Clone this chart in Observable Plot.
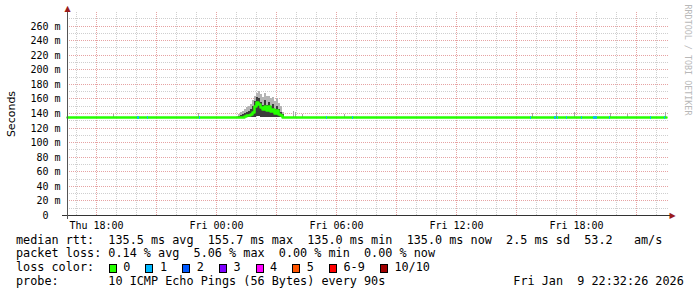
<!DOCTYPE html>
<html><head><meta charset="utf-8">
<script src="https://cdn.jsdelivr.net/npm/d3@7"></script>
<script src="https://cdn.jsdelivr.net/npm/@observablehq/plot@0.6"></script>
<style>
body{margin:0;background:#fff}
#wrap{position:relative;width:697px;height:297px;overflow:hidden;background:#fff}
#wrap svg{position:absolute;left:0;top:0}
.row{position:absolute;font-family:"DejaVu Sans Mono",monospace;font-size:11.8px;white-space:pre;color:#000;line-height:1}
.sw{position:absolute;width:6px;height:7px;border:1px solid #000}
</style></head><body><div id="wrap"></div>
<script>
// ---- data ----
const xDomain = [16.55, 46.55];          // hours since Thu 00:00
const yDomain = [0, 278.6];              // ms
const xTickHours = [18, 24, 30, 36, 42];
const xTickLabels = ["Thu 18:00", "Fri 00:00", "Fri 06:00", "Fri 12:00", "Fri 18:00"];
const yTicks = [0, 20, 40, 60, 80, 100, 120, 140, 160, 180, 200, 220, 240, 260];

const medianHours = [16.55, 25.0, 25.1, 25.2, 25.3, 25.4, 25.5, 25.6, 25.7, 25.8, 25.9, 26.0, 26.1, 26.2, 26.3, 26.4, 26.5, 26.6, 26.7, 26.8, 26.9, 27.0, 27.1, 27.2, 27.3, 27.4, 46.5];
const medianMs    = [135,   135,  135,  135,  135,  135.5,137,  137,  138,  141,  149,  155,  153,  148,  145,  150,  144,  149,  143,  146,  140,  144,  138,  137,  135,  135,  135];

const smokeHours = [25.0, 25.1, 25.2, 25.3, 25.4, 25.5, 25.6, 25.7, 25.8, 25.9, 26.0, 26.1, 26.2, 26.3, 26.4, 26.5, 26.6, 26.7, 26.8, 26.9, 27.0, 27.1, 27.2, 27.3, 27.4];
const smokeMin   = [134,  134,  134,  134,  134,  134,  134.5,135,  135,  135,  136,  136,  135,  135,  135,  135,  135,  135,  135,  135,  135,  134.5,134,  134,  134];
const smokeInner = [135,  136,  137,  138,  140,  141,  143,  145,  150,  157,  162,  160,  155,  151,  158,  151,  155,  149,  153,  146,  150,  145,  142,  138,  135];
const smokeMax   = [136,  138,  141,  143,  146,  148,  150,  153,  158,  164,  168,  170,  166,  162,  167,  163,  164,  160,  162,  157,  160,  154,  150,  142,  136];

const spikeHours = [18.85, 23.08, 27.85, 27.95, 28.3, 30.4, 39.8, 41.0, 41.9, 43.7, 44.55, 46.45];
const spikeMs    = [139,   140,   143,   141,   139,  139,  140,  141,  141,  140,  139,   141];

const lossStart = [20.05, 20.55, 23.15, 29.5,  30.8,  39.7,  40.9, 41.05, 41.5,  42.25, 42.85, 43.65, 45.7,  46.4];
const lossEnd   = [20.15, 20.6,  23.2,  29.55, 30.85, 39.75, 41.0, 41.1,  41.55, 42.3,  43.05, 43.7,  45.75, 46.45];
const lossMs    = [135,   135,   135,   135,   135,   135,   135,  135,   135,   135,   135,   135,   135,   135];
const lossClass = ["1",   "1",   "1",   "1",   "1",   "1",   "1",  "1",   "1",   "1",   "1",   "1",   "1",   "1"];

const lossLabels = ["0", "1", "2", "3", "4", "5", "6-9", "10/10"];
const lossColors = ["#26ff00", "#00b8ff", "#0059ff", "#7e00ff", "#ff00ff", "#ff5500", "#ff0000", "#a10000"];

const statsLine1 = "median rtt:  135.5 ms avg  155.7 ms max  135.0 ms min  135.0 ms now  2.5 ms sd  53.2   am/s";
const statsLine2 = "packet loss: 0.14 % avg  5.06 % max  0.00 % min  0.00 % now";
const probeLine = "probe:       10 ICMP Echo Pings (56 Bytes) every 90s";
const stampText = "Fri Jan  9 22:32:26 2026";
const yLabel = "Seconds";
const watermark = "RRDTOOL / TOBI OETIKER";

// ---- grid definitions ----
const yMinor = d3.range(10, 280, 20);
const yMajor = d3.range(20, 280, 20);
const xAllHours = d3.range(17, 47);
const xMinor = xAllHours.filter(h => h % 3 !== 0);
const xMajor = xAllHours.filter(h => h % 3 === 0);

const mono = "'DejaVu Sans Mono', monospace";
const chart = Plot.plot({
  width: 697, height: 232,
  marginLeft: 67, marginRight: 30, marginTop: 12, marginBottom: 17,
  x: {domain: xDomain, axis: null, round: true},
  y: {domain: yDomain, axis: null, round: true},
  color: {domain: lossLabels, range: lossColors},
  style: {fontFamily: mono, fontSize: "10px", background: "#fff", color: "#000", overflow: "visible"},
  marks: [
    Plot.ruleY(yMinor, {y: d => d, stroke: "#cfcfcf", strokeDasharray: "1,1", insetRight: -1}),
    Plot.ruleX(xMinor, {x: d => d, stroke: "#cfcfcf", strokeDasharray: "1,1"}),
    Plot.ruleY(yMajor, {y: d => d, stroke: "#e6a3a3", strokeDasharray: "1,1", insetRight: -1}),
    Plot.ruleX(xMajor, {x: d => d, stroke: "#e6a3a3", strokeDasharray: "1,1"}),
    Plot.ruleX(spikeHours, {x: d => d, y1: (d, i) => lossMs[0], y2: (d, i) => spikeMs[i], stroke: "#a8a8a8", strokeWidth: 1}),
    Plot.areaY(smokeHours, {x: d => d, y1: (d, i) => smokeMin[i], y2: (d, i) => smokeMax[i], fill: "#b4b4b4", curve: "step-after"}),
    Plot.areaY(smokeHours, {x: d => d, y1: (d, i) => smokeMin[i], y2: (d, i) => smokeInner[i], fill: "#3c3c3c", curve: "step-after"}),
    Plot.line(medianHours, {x: d => d, y: (d, i) => medianMs[i], stroke: lossColors[0], strokeWidth: 2.5, curve: "step-after"}),
    Plot.ruleY(lossStart, {x1: d => d, x2: (d, i) => lossEnd[i], y: (d, i) => lossMs[i], stroke: (d, i) => lossClass[i], strokeWidth: 2.5}),
    // axes lines
    Plot.ruleY([yDomain[0]], {y: d => d, stroke: "#333", insetLeft: -5, insetRight: -3}),
    Plot.ruleX([xDomain[0]], {x: d => d, stroke: "#555", insetTop: -4, insetBottom: -4}),
    Plot.text(["\u25B2"], {text: d => d, frameAnchor: "top-left", dy: -4, fill: "#9b1c1c", fontFamily: "DejaVu Sans", fontSize: 8, textAnchor: "middle", lineAnchor: "middle"}),
    Plot.text(["\u25B6"], {text: d => d, frameAnchor: "bottom-right", dx: 5, fill: "#9b1c1c", fontFamily: "DejaVu Sans", fontSize: 8, textAnchor: "middle", lineAnchor: "middle"}),
    // tick labels
    Plot.text(yTicks, {y: d => d, text: d => d === 0 ? "0\u00a0\u00a0" : d + "\u00a0m", frameAnchor: "left", dx: -7, textAnchor: "end", lineAnchor: "middle", fill: "#000"}),
    Plot.text(xTickHours, {x: d => d, text: (d, i) => xTickLabels[i], frameAnchor: "bottom", dy: 10, textAnchor: "middle", lineAnchor: "middle", fill: "#000"}),
    Plot.text([yLabel], {text: d => d, frameAnchor: "left", dx: -56, rotate: -90, fontFamily: "DejaVu Sans", fontSize: 11, textAnchor: "middle", lineAnchor: "middle", fill: "#000"}),
    Plot.text([watermark], {text: d => d, frameAnchor: "top-right", dx: 20, dy: 47.5, rotate: 90, fontSize: 8.4, textAnchor: "middle", lineAnchor: "middle", fill: "#b8b8b8"})
  ]
});
const wrap = document.getElementById("wrap");
wrap.appendChild(chart);

// ---- legend below the plot ----
function row(text, left, baseline) {
  const s = document.createElement("div");
  s.className = "row";
  s.textContent = text;
  s.style.left = left + "px";
  s.style.top = (baseline - 10) + "px";
  wrap.appendChild(s);
  return s;
}
const cw = 7.1;
row(statsLine1, 16, 244.5);
row(statsLine2, 16, 258.2);
row("loss color:", 16, 271.9);
let sx = 108.7;
lossLabels.forEach((lab, i) => {
  const b = document.createElement("div");
  b.className = "sw";
  b.style.left = sx + "px";
  b.style.top = "264.2px";
  b.style.background = lossColors[i];
  wrap.appendChild(b);
  row(lab, sx + 14.6, 271.9);
  sx += 14.6 + lab.length * cw + 15;
});
row(probeLine, 16, 285.6);
row(stampText, 513.3, 285.6);
</script></body></html>
